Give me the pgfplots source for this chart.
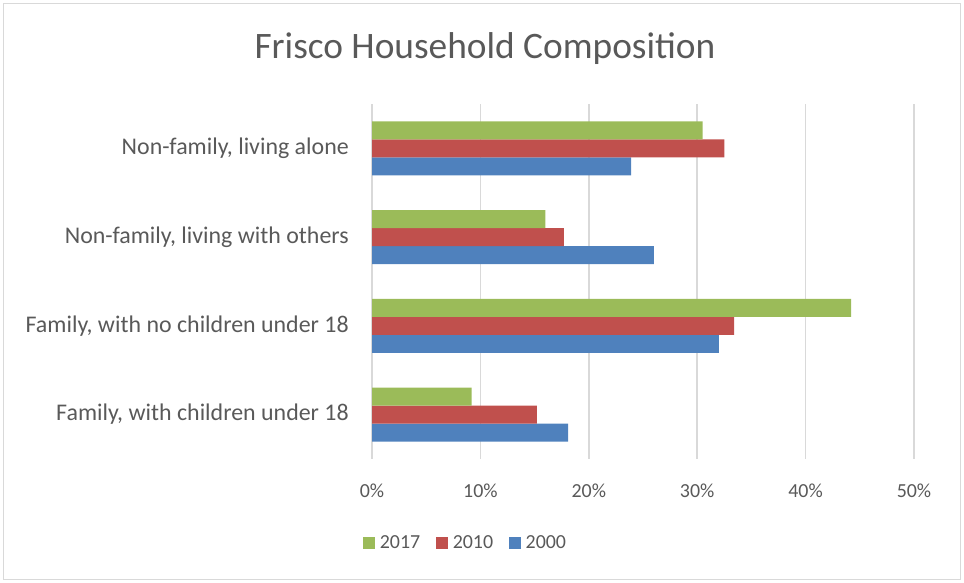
\documentclass[border=0pt]{standalone}
\usepackage{pgfplots}
\pgfplotsset{compat=1.18}
\usepackage{fontspec}
\setmainfont{Carlito}
\definecolor{c17}{HTML}{9BBB59}
\definecolor{c10}{HTML}{C0504D}
\definecolor{c00}{HTML}{4F81BD}
\definecolor{txt}{HTML}{595959}
\definecolor{gridc}{HTML}{D9D9D9}
\begin{document}
\begin{tikzpicture}[x=1bp,y=1bp]
\path[use as bounding box] (0,0) rectangle (964,583);
\draw[color=gridc, line width=1bp] (3.5,3.5) rectangle (960.5,579.5);
\node[text=txt, font=\fontsize{37.5}{44}\selectfont] at (485,534) {Frisco Household Composition};
\begin{axis}[
  at={(372bp,124bp)}, anchor=south west,
  scale only axis, width=542bp, height=355bp,
  xbar=0pt, bar width=18bp,
  xmin=0, xmax=50, ymin=-0.5, ymax=3.5,
  xtick={0,10,20,30,40,50},
  xticklabel={\pgfmathprintnumber{\tick}\%},
  ytick={0,1,2,3},
  yticklabels={{Family, with children under 18}, {Family, with no children under 18}, {Non-family, living with others}, {Non-family, living alone}},
  /pgf/number format/assume math mode=true,
  axis line style={draw=none},
  major tick length=0pt,
  xmajorgrids, grid style={color=gridc, line width=1.5bp},
  tick label style={text=txt},
  xticklabel style={font=\fontsize{20}{24}\selectfont, anchor=north, inner sep=0pt, yshift=-25bp},
  yticklabel style={font=\fontsize{24}{28}\selectfont, anchor=east, inner sep=0pt, xshift=-23bp},
  legend columns=3, reverse legend,
  legend style={at={(0.172,-0.237)}, anchor=center, draw=none, fill=none,
    font=\fontsize{20}{24}\selectfont, text=txt,
    nodes={inner sep=1bp},
    /tikz/every odd column/.append style={column sep=4bp},
    /tikz/every even column/.append style={column sep=15bp}},
  legend image code/.code={\fill[#1] (0bp,-5.75bp) rectangle (11.5bp,5.75bp);},
]
\addplot[fill=c00, draw=none] coordinates {(18.1,0) (32.0,1) (26.0,2) (23.9,3)};
\addplot[fill=c10, draw=none] coordinates {(15.2,0) (33.4,1) (17.7,2) (32.5,3)};
\addplot[fill=c17, draw=none] coordinates {(9.2,0) (44.2,1) (16.0,2) (30.5,3)};
\legend{2000,2010,2017}
\end{axis}
\end{tikzpicture}
\end{document}
